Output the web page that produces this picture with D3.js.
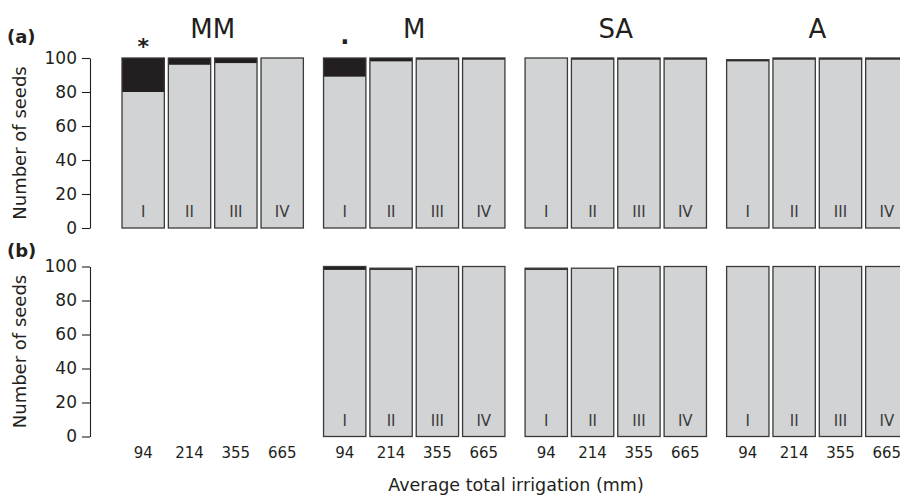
<!DOCTYPE html>
<meta charset="utf-8">
<style>
body { margin: 0; background: #fff; }
svg text { font-family: "DejaVu Sans", sans-serif; fill: #231f20; }
.axis .domain, .axis line { stroke: #231f20; stroke-width: 1.1; }
</style>
<svg width="900" height="496"></svg>
<script src="https://d3js.org/d3.v7.min.js"></script>
<script>

var groups = ["MM", "M", "SA", "A"],
    levels = ["I", "II", "III", "IV"],
    irrigation = [94, 214, 355, 665],
    yTicks = [0, 20, 40, 60, 80, 100];

// panel (a): grey part and black part of each bar, per group
var lightA = [[80, 96, 97, 100], [89, 98, 99, 99], [100, 99, 99, 99], [98, 99, 99, 99]],
    darkA  = [[20, 4, 3, 0], [11, 2, 1, 1], [0, 1, 1, 1], [1, 1, 1, 1]];
// panel (b): nothing for MM
var lightB = [null, [98, 98, 100, 100], [98, 99, 100, 100], [100, 100, 100, 100]],
    darkB  = [null, [2, 1, 0, 0], [1, 0, 0, 0], [0, 0, 0, 0]];
var marksA = ["*", ".", "", ""];

var svg = d3.select("svg");

var x0 = d3.scaleBand().domain(groups).range([122, 908]).paddingInner(0.1);
var x1 = d3.scaleBand().domain(levels).range([0, x0.bandwidth()]).paddingInner(0.086);

function barX(g, l) { return x0(g) + x1(l); }

var panels = [
  {name: "(a)", top: 58, labelY: 43, light: lightA, dark: darkA, marks: marksA, titles: true, ticks: false},
  {name: "(b)", top: 266.5, labelY: 257, light: lightB, dark: darkB, marks: null, titles: false, ticks: true}
];

panels.forEach(function(p) {
  var y = d3.scaleLinear().domain([0, 100]).range([p.top + 170, p.top]);
  var g = svg.append("g");

  var rows = [];
  groups.forEach(function(gr, gi) {
    if (!p.light[gi]) return;
    levels.forEach(function(l, li) {
      rows.push({group: gr, level: l, light: p.light[gi][li], dark: p.dark[gi][li]});
    });
  });

  var bar = g.selectAll("g.bar")
    .data(rows)
    .enter().append("g")
      .attr("class", "bar");

  bar.append("rect")
      .attr("x", function(d) { return barX(d.group, d.level); })
      .attr("y", function(d) { return y(d.light); })
      .attr("width", x1.bandwidth())
      .attr("height", function(d) { return y(0) - y(d.light); })
      .attr("fill", "#d1d3d4");

  bar.filter(function(d) { return d.dark > 0; }).append("rect")
      .attr("x", function(d) { return barX(d.group, d.level); })
      .attr("y", function(d) { return y(d.light + d.dark); })
      .attr("width", x1.bandwidth())
      .attr("height", function(d) { return y(d.light) - y(d.light + d.dark); })
      .attr("fill", "#231f20");

  bar.append("rect")
      .attr("x", function(d) { return barX(d.group, d.level); })
      .attr("y", function(d) { return y(d.light + d.dark); })
      .attr("width", x1.bandwidth())
      .attr("height", function(d) { return y(0) - y(d.light + d.dark); })
      .attr("fill", "none")
      .attr("stroke", "#3a3a3a")
      .attr("stroke-width", 1.3);

  bar.append("text")
      .attr("x", function(d) { return barX(d.group, d.level) + x1.bandwidth() / 2; })
      .attr("y", y(0) - 11)
      .attr("text-anchor", "middle")
      .attr("font-size", 15)
      .style("fill", "#3a3a3a")
      .text(function(d) { return d.level; });

  var ax = g.append("g")
      .attr("class", "axis")
      .attr("transform", "translate(90,0)")
      .call(d3.axisLeft(y).tickValues(yTicks).tickSize(8).tickSizeOuter(0).tickPadding(5));
  ax.attr("font-size", 17).attr("font-family", null);

  g.append("text")
      .attr("transform", "translate(19," + (p.top + 85) + ") rotate(-90)")
      .attr("text-anchor", "middle")
      .attr("dominant-baseline", "central")
      .attr("font-size", 18)
      .text("Number of seeds");

  g.append("text")
      .attr("x", 7)
      .attr("y", p.labelY)
      .attr("font-size", 18)
      .attr("font-weight", "bold")
      .text(p.name);

  if (p.titles) {
    g.selectAll("text.title")
      .data(groups)
      .enter().append("text")
        .attr("class", "title")
        .attr("x", function(d) { return x0(d) + x0.bandwidth() / 2; })
        .attr("y", 38)
        .attr("text-anchor", "middle")
        .attr("font-size", 26)
        .text(function(d) { return d; });
  }

  if (p.marks) {
    g.selectAll("text.mark")
      .data(groups.filter(function(d, i) { return p.marks[i]; }))
      .enter().append("text")
        .attr("class", "mark")
        .attr("x", function(d) { return barX(d, "I") + x1.bandwidth() / 2; })
        .attr("y", function(d) { return p.marks[groups.indexOf(d)] === "*" ? y(100) - 4 : y(100) - 14.5; })
        .attr("text-anchor", "middle")
        .attr("font-size", function(d) { return p.marks[groups.indexOf(d)] === "*" ? 22 : 24; })
        .attr("font-weight", "bold")
        .text(function(d) { return p.marks[groups.indexOf(d)]; });
  }

  if (p.ticks) {
    var cells = [];
    groups.forEach(function(gr) {
      levels.forEach(function(l, li) { cells.push({group: gr, level: l, mm: irrigation[li]}); });
    });
    g.selectAll("text.xt")
      .data(cells)
      .enter().append("text")
        .attr("class", "xt")
        .attr("x", function(d) { return barX(d.group, d.level) + x1.bandwidth() / 2; })
        .attr("y", 458)
        .attr("text-anchor", "middle")
        .attr("font-size", 15)
        .text(function(d) { return d.mm; });
  }
});

svg.append("text")
    .attr("x", 516)
    .attr("y", 491)
    .attr("text-anchor", "middle")
    .attr("font-size", 17.5)
    .text("Average total irrigation (mm)");

</script>
